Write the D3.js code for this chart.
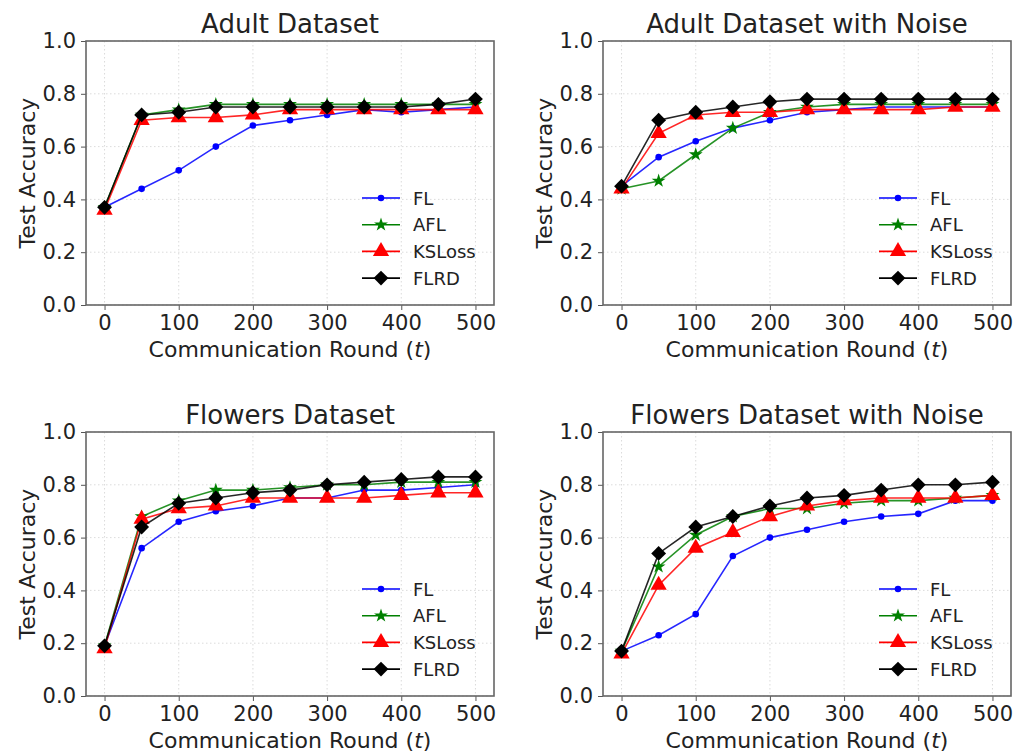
<!DOCTYPE html>
<html>
<head>
<meta charset="utf-8">
<script src="https://cdn.jsdelivr.net/npm/d3@7"></script>
<style>
  body { margin: 0; background: #fff; }
  text { font-family: "DejaVu Sans", sans-serif; fill: #222; }
</style>
</head>
<body>
<div id="chart"></div>
<script>
const rounds = [0, 50, 100, 150, 200, 250, 300, 350, 400, 450, 500];
const seriesNames = ['FL', 'AFL', 'KSLoss', 'FLRD'];
const titles = ['Adult Dataset', 'Adult Dataset with Noise', 'Flowers Dataset', 'Flowers Dataset with Noise'];
const xTicks = [0, 100, 200, 300, 400, 500];
const yTicks = [0, 0.2, 0.4, 0.6, 0.8, 1.0];

// values per panel, order FL, AFL, KSLoss, FLRD
const adult = [
    [0.37, 0.44, 0.51, 0.60, 0.68, 0.70, 0.72, 0.74, 0.73, 0.74, 0.75],
    [0.37, 0.72, 0.74, 0.76, 0.76, 0.76, 0.76, 0.76, 0.76, 0.76, 0.76],
    [0.36, 0.70, 0.71, 0.71, 0.72, 0.74, 0.74, 0.74, 0.74, 0.74, 0.74],
    [0.37, 0.72, 0.73, 0.75, 0.75, 0.75, 0.75, 0.75, 0.75, 0.76, 0.78]
];
const adultNoise = [
    [0.45, 0.56, 0.62, 0.67, 0.70, 0.73, 0.74, 0.75, 0.75, 0.75, 0.75],
    [0.44, 0.47, 0.57, 0.67, 0.73, 0.75, 0.76, 0.76, 0.76, 0.76, 0.76],
    [0.44, 0.65, 0.72, 0.73, 0.73, 0.74, 0.74, 0.74, 0.74, 0.75, 0.75],
    [0.45, 0.70, 0.73, 0.75, 0.77, 0.78, 0.78, 0.78, 0.78, 0.78, 0.78]
];
const flowers = [
    [0.19, 0.56, 0.66, 0.70, 0.72, 0.75, 0.75, 0.78, 0.78, 0.79, 0.80],
    [0.19, 0.68, 0.74, 0.78, 0.78, 0.79, 0.80, 0.80, 0.81, 0.81, 0.81],
    [0.18, 0.67, 0.71, 0.72, 0.75, 0.75, 0.75, 0.75, 0.76, 0.77, 0.77],
    [0.19, 0.64, 0.73, 0.75, 0.77, 0.78, 0.80, 0.81, 0.82, 0.83, 0.83]
];
const flowersNoise = [
    [0.17, 0.23, 0.31, 0.53, 0.60, 0.63, 0.66, 0.68, 0.69, 0.74, 0.74],
    [0.17, 0.49, 0.61, 0.68, 0.71, 0.71, 0.73, 0.74, 0.74, 0.75, 0.76],
    [0.16, 0.42, 0.56, 0.62, 0.68, 0.72, 0.74, 0.75, 0.75, 0.75, 0.76],
    [0.17, 0.54, 0.64, 0.68, 0.72, 0.75, 0.76, 0.78, 0.80, 0.80, 0.81]
];
const panels = [adult, adultNoise, flowers, flowersNoise];

const colors = ['#0000ff', '#008000', '#ff0000', '#000000'];
const symbols = [
    d3.symbol().type(d3.symbolCircle).size(34),
    d3.symbol().type(d3.symbolStar).size(60),
    d3.symbol().type(d3.symbolTriangle).size(115),
    d3.symbol().type(d3.symbolSquare).size(110)
];
const rotations = [0, 0, 0, 45];

const W = 1017, H = 754;
const svg = d3.select('#chart').append('svg')
    .attr('width', W).attr('height', H);

// axes boxes (left, top, right, bottom)
const boxes = [
    [86, 41, 494, 305],
    [603, 41, 1011, 305],
    [86, 432, 494, 696],
    [603, 432, 1011, 696]
];

panels.forEach((data, p) => {
    const [l, t, r, b] = boxes[p];
    const x = d3.scaleLinear().domain([-25, 525]).range([l, r]);
    const y = d3.scaleLinear().domain([0, 1]).range([b, t]);
    const g = svg.append('g');

    // grid
    g.selectAll('.gx').data(xTicks).enter().append('line')
        .attr('x1', d => x(d)).attr('x2', d => x(d))
        .attr('y1', t).attr('y2', b)
        .attr('stroke', '#d2d2d2').attr('stroke-width', 0.8)
        .attr('stroke-dasharray', '1.5,2.5');
    g.selectAll('.gy').data(yTicks).enter().append('line')
        .attr('x1', l).attr('x2', r)
        .attr('y1', d => y(d)).attr('y2', d => y(d))
        .attr('stroke', '#d2d2d2').attr('stroke-width', 0.8)
        .attr('stroke-dasharray', '1.5,2.5');

    // axes
    const xAxis = g.append('g').attr('transform', `translate(0,${b})`)
        .call(d3.axisBottom(x).tickValues(xTicks).tickSize(5).tickPadding(5));
    const yAxis = g.append('g').attr('transform', `translate(${l},0)`)
        .call(d3.axisLeft(y).tickValues(yTicks).tickFormat(d3.format('.1f')).tickSize(5).tickPadding(5));
    [xAxis, yAxis].forEach(a => {
        a.select('.domain').remove();
        a.selectAll('line').attr('stroke', '#555');
        a.selectAll('text').style('font-size', '21px').attr('fill', '#222');
    });
    g.append('rect')
        .attr('x', l).attr('y', t).attr('width', r - l).attr('height', b - t)
        .attr('fill', 'none').attr('stroke', '#666').attr('stroke-width', 1.6);

    // title and labels
    g.append('text').attr('x', (l + r) / 2).attr('y', t - 8)
        .attr('text-anchor', 'middle').style('font-size', '26px').text(titles[p]);
    const xl = g.append('text').attr('x', (l + r) / 2).attr('y', b + 52)
        .attr('text-anchor', 'middle').style('font-size', '22px');
    xl.append('tspan').text('Communication Round (');
    xl.append('tspan').style('font-style', 'italic').text('t');
    xl.append('tspan').text(')');
    g.append('text')
        .attr('transform', `translate(${l - 51},${(t + b) / 2}) rotate(-90)`)
        .attr('text-anchor', 'middle').style('font-size', '22px').text('Test Accuracy');

    // series
    const line = d3.line().x((d, i) => x(rounds[i])).y(d => y(d));
    data.forEach((vals, s) => {
        g.append('path').datum(vals)
            .attr('d', line).attr('fill', 'none')
            .attr('stroke', colors[s]).attr('stroke-width', 1.6).attr('opacity', 0.85);
        g.selectAll('.m' + s).data(vals).enter().append('path')
            .attr('d', symbols[s])
            .attr('transform', (d, i) => `translate(${x(rounds[i])},${y(d)}) rotate(${rotations[s]})`)
            .attr('fill', colors[s]);
    });

    // legend
    const lx = r - 132, ly = t + 157;
    seriesNames.forEach((name, s) => {
        const yy = ly + s * 26.7;
        g.append('line').attr('x1', lx).attr('x2', lx + 38).attr('y1', yy).attr('y2', yy)
            .attr('stroke', colors[s]).attr('stroke-width', 1.6);
        g.append('path').attr('d', symbols[s])
            .attr('transform', `translate(${lx + 19},${yy}) rotate(${rotations[s]})`)
            .attr('fill', colors[s]);
        g.append('text').attr('x', lx + 51).attr('y', yy + 6.5)
            .style('font-size', '18px').text(name);
    });
});
</script>
</body>
</html>
